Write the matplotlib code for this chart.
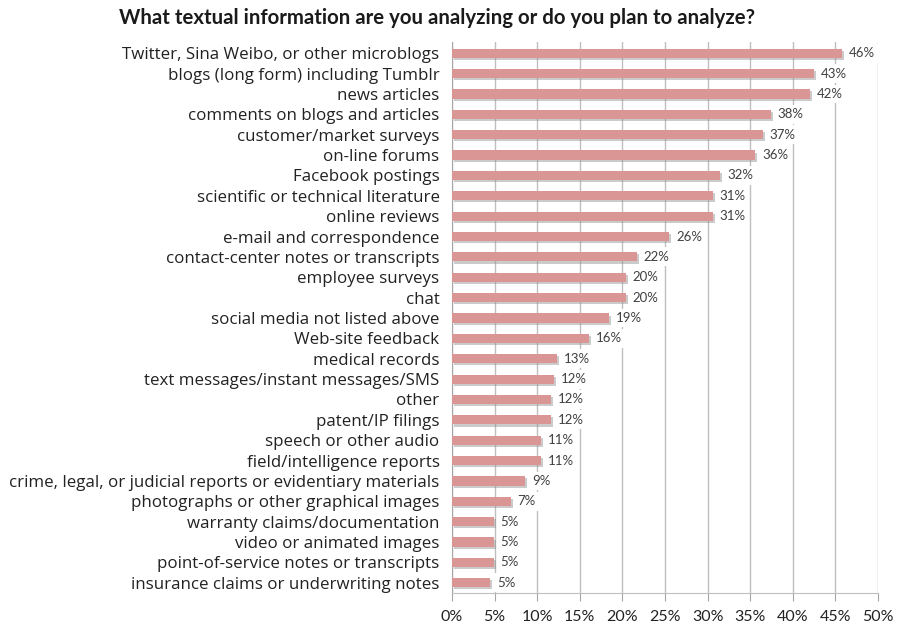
import matplotlib
matplotlib.use("Agg")
import matplotlib.pyplot as plt
import matplotlib.patheffects as pe

categories = [
    "Twitter, Sina Weibo, or other microblogs",
    "blogs (long form) including Tumblr",
    "news articles",
    "comments on blogs and articles",
    "customer/market surveys",
    "on-line forums",
    "Facebook postings",
    "scientific or technical literature",
    "online reviews",
    "e-mail and correspondence",
    "contact-center notes or transcripts",
    "employee surveys",
    "chat",
    "social media not listed above",
    "Web-site feedback",
    "medical records",
    "text messages/instant messages/SMS",
    "other",
    "patent/IP filings",
    "speech or other audio",
    "field/intelligence reports",
    "crime, legal, or judicial reports or evidentiary materials",
    "photographs or other graphical images",
    "warranty claims/documentation",
    "video or animated images",
    "point-of-service notes or transcripts",
    "insurance claims or underwriting notes",
]
values = [45.8, 42.5, 42.0, 37.4, 36.5, 35.6, 31.5, 30.6, 30.6, 25.5, 21.7, 20.4,
          20.4, 18.4, 16.1, 12.3, 12.0, 11.6, 11.6, 10.4, 10.4, 8.6, 6.9, 4.9,
          4.9, 4.9, 4.5]
labels = ["46%", "43%", "42%", "38%", "37%", "36%", "32%", "31%", "31%", "26%",
          "22%", "20%", "20%", "19%", "16%", "13%", "12%", "12%", "12%", "11%",
          "11%", "9%", "7%", "5%", "5%", "5%", "5%"]
xticks = [0, 5, 10, 15, 20, 25, 30, 35, 40, 45, 50]
xticklabels = ["0%", "5%", "10%", "15%", "20%", "25%", "30%", "35%", "40%", "45%", "50%"]
title = "What textual information are you analyzing or do you plan to analyze?"

fig = plt.figure(figsize=(8.98, 6.28), dpi=100)
ax = fig.add_axes([452/898, 1-593/628, (878-452)/898, (593-42)/628])

ypos = list(range(len(categories)))
bars = ax.barh(ypos, values, height=0.45, color="#D99694", zorder=3)
for b in bars:
    b.set_path_effects([pe.SimplePatchShadow(offset=(1.5, -1.5), shadow_rgbFace="#8c8c8c", alpha=0.45),
                        pe.Normal()])

for y, v, lab in zip(ypos, values, labels):
    ax.text(v + 0.8, y, lab, va="center", ha="left", fontsize=9.5, family="Lato",
            color="#404040", zorder=4,
            bbox=dict(facecolor="white", edgecolor="none", pad=2.5))

ax.set_xlim(0, 50)
ax.set_ylim(len(categories) - 0.5, -0.55)
ax.set_xticks(xticks)
ax.set_xticklabels(xticklabels, fontsize=11.5, family="Lato", color="#222222")
ax.set_yticks(ypos)
ax.set_yticklabels(categories, fontsize=12.2, family="Open Sans", color="#222222")
ax.tick_params(axis="y", length=0, pad=9)
ax.tick_params(axis="x", length=6, color="#A6A6A6", pad=6)
ax.xaxis.grid(True, color="#BFBFBF", linewidth=1, zorder=0)
ax.set_axisbelow(True)
for s in ["top", "right"]:
    ax.spines[s].set_visible(False)
ax.spines["left"].set_color("#A6A6A6")
ax.spines["bottom"].set_color("#BFBFBF")

fig.text(437/898, 1-18/628, title, ha="center", va="center", fontsize=14.7,
         fontweight="bold", family="Lato", color="#1a1a1a")

fig.savefig("out.png", dpi=100)
